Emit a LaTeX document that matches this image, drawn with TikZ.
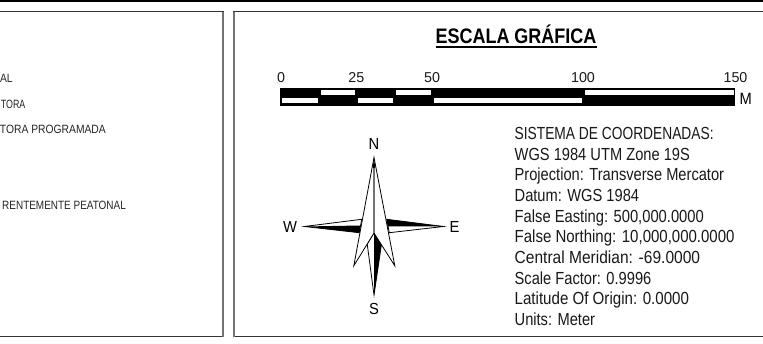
\documentclass[tikz,border=0pt]{standalone}
\usepackage{fontspec}
\setmainfont{Liberation Sans}
\tikzset{
  hline/.style={draw=black!80,line width=1.1pt},
  vline/.style={draw=black!55,line width=1.6pt},
  lbl/.style={inner sep=0pt,anchor=base west,xscale=#1,transform shape,font=\fontsize{17.5}{17.5}\selectfont,text=black!90},
  lbl/.default=.838,
  tick/.style={inner sep=0pt,anchor=base,font=\fontsize{14.3}{14.3}\selectfont,text=black!90},
  legend/.style={inner sep=0pt,anchor=base east,xscale=#1,transform shape,font=\fontsize{12}{12}\selectfont,text=black!85},
  legend/.default=.86,
  card/.style={inner sep=0pt,anchor=base,xscale=.92,transform shape,font=\fontsize{16}{16}\selectfont},
  edge/.style={draw=black,line width=.8pt,line join=miter,fill=white},
}
\begin{document}
\begin{tikzpicture}[x=1pt,y=-1pt]
\useasboundingbox (0,0) rectangle (763,344);
\fill[white] (0,0) rectangle (763,344);
% top rule
\fill[black] (0,0) rectangle (763,2.2);
% panels
\draw[hline] (-3,11.7) -- (223.8,11.7);
\draw[hline] (-3,336.7) -- (223.8,336.7);
\draw[vline] (223,11.7) -- (223,336.7);
\draw[hline] (767,11.7) -- (233.2,11.7);
\draw[hline] (767,336.7) -- (233.2,336.7);
\draw[vline] (234,11.7) -- (234,336.7);
% legend text
\node[legend] (l1) at (12.8,83) {AL};
\node[legend=.74] (l2) at (25.5,108.8) {TORA};
\node[legend] (l3) at (106,133.8) {TORA PROGRAMADA};
\node[legend=.83] (l4) at (126,209.8) {RENTEMENTE PEATONAL};
% title
\node[inner sep=0pt,anchor=base,xscale=.857,transform shape,font=\bfseries\fontsize{21}{21}\selectfont] (title) at (516,44) {ESCALA GRÁFICA};
\draw[black,line width=1.5pt] (436,47) -- (596.5,47);
% scale bar
\fill[black] (280,87.8) rectangle (735,105.6);
\foreach \a/\b in {321/355,396/431,584.5/734}{\fill[white] (\a,90.5) rectangle (\b,95.3);}
\foreach \a/\b in {282/317.5,358/393,434/582}{\fill[white] (\a,98) rectangle (\b,103);}
\node[tick] (t0) at (281,82.3) {0};
\node[tick] (t25) at (356.3,82.3) {25};
\node[tick] (t50) at (432,82.3) {50};
\node[tick] (t100) at (583,82.3) {100};
\node[tick] (t150) at (735.5,82.3) {150};
\node[inner sep=0pt,anchor=base west,xscale=.9,transform shape,font=\fontsize{16.3}{16.3}\selectfont] (unit) at (739.5,104.7) {M};
% compass
\filldraw[edge] (304.5,226.5) -- (361.7,219.3) -- (359.3,232.7) -- cycle;
\fill[black] (304.5,226.5) -- (360.5,225.5) -- (359.3,232.7) -- cycle;
\filldraw[edge] (443.5,226.5) -- (386.7,219.3) -- (389.3,232.7) -- cycle;
\fill[black] (443.5,226.5) -- (386.7,219.3) -- (387.8,226.5) -- cycle;
\filldraw[edge] (374,295) -- (367.2,244) -- (374,233) -- (381.5,244) -- cycle;
\fill[black] (374,295) -- (374,233) -- (381.5,244) -- cycle;
\filldraw[edge] (374,157.5) -- (394.8,265.8) -- (374,233) -- (353.8,265.8) -- cycle;
\draw[black!55,line width=1.5pt] (374,165) -- (374,233);
\fill[black] (374,157.5) -- (375.3,168) -- (372.7,168) -- cycle;
\fill[black] (374,233) -- (379,241) -- (374,295) -- cycle;
\node[card] (n) at (374,150) {N};
\node[card] (s) at (374,314.5) {S};
\node[card] (w) at (290,232.7) {W};
\node[card] (e) at (454.5,232.7) {E};
% coordinate system text
\node[lbl=.787] (c1) at (514.5,139.4) {SISTEMA DE COORDENADAS:};
\node[lbl] (c2) at (514.5,160.1) {WGS 1984 UTM Zone 19S};
\node[lbl] (c3) at (514.5,180.8) {Projection: Transverse Mercator};
\node[lbl] (c4) at (514.5,201.5) {Datum: WGS 1984};
\node[lbl=.843] (c5) at (514.5,222.2) {False Easting: 500,000.0000};
\node[lbl=.857] (c6) at (514.5,242.9) {False Northing: 10,000,000.0000};
\node[lbl=.888] (c7) at (514.5,263.6) {Central Meridian: -69.0000};
\node[lbl] (c8) at (514.5,284.3) {Scale Factor: 0.9996};
\node[lbl=.863] (c9) at (514.5,305) {Latitude Of Origin: 0.0000};
\node[lbl] (c10) at (514.5,325.7) {Units: Meter};
\end{tikzpicture}
\end{document}
